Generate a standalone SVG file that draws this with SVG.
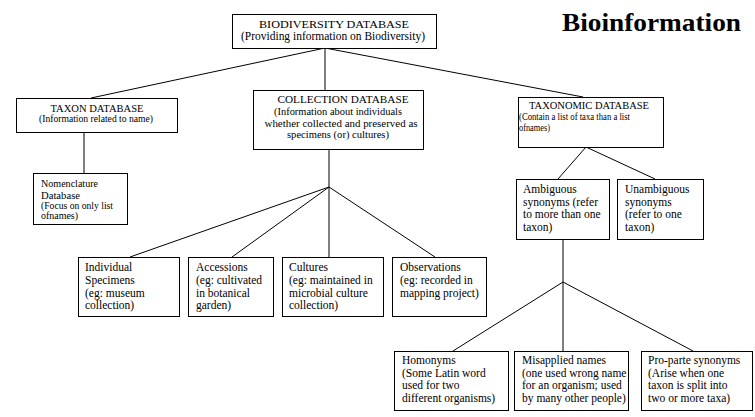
<svg xmlns="http://www.w3.org/2000/svg" width="755" height="417" viewBox="0 0 755 417">
<style>
.box{fill:#fff;stroke:#000;stroke-width:1}
.t{font-family:"Liberation Serif","Times New Roman",serif;font-size:11.5px;fill:#000}
.s{font-family:"Liberation Serif","Times New Roman",serif;font-size:10px;fill:#000}
.h{font-family:"Liberation Serif","Times New Roman",serif;font-size:11px;fill:#000}
.c{text-anchor:middle}
.title{font-family:"Liberation Serif","Times New Roman",serif;font-size:25px;font-weight:bold;fill:#000}
#connectors line{stroke:#000;stroke-width:1}
</style>
<rect width="755" height="417" fill="#fff"/>
<g id="connectors">
<line x1="325" y1="48" x2="91" y2="98"/>
<line x1="325" y1="48" x2="325" y2="90"/>
<line x1="325" y1="48" x2="583" y2="97"/>
<line x1="84" y1="132" x2="84" y2="173"/>
<line x1="329" y1="149" x2="329" y2="187"/>
<line x1="329" y1="187" x2="130" y2="257"/>
<line x1="329" y1="187" x2="232" y2="257"/>
<line x1="329" y1="187" x2="329" y2="257"/>
<line x1="329" y1="187" x2="435" y2="257"/>
<line x1="586" y1="147" x2="558" y2="179"/>
<line x1="586" y1="147" x2="655" y2="179"/>
<line x1="563" y1="239" x2="563" y2="282"/>
<line x1="563" y1="282" x2="453" y2="351"/>
<line x1="563" y1="282" x2="563" y2="351"/>
<line x1="563" y1="282" x2="693" y2="351"/>
</g>
<text class="title" x="562" y="31" textLength="179" lengthAdjust="spacingAndGlyphs">Bioinformation</text>
<g id="biodiversity">
<rect class="box" x="232.5" y="14.5" width="204" height="34"/>
<text class="h c" x="334" y="28" textLength="150" lengthAdjust="spacingAndGlyphs">BIODIVERSITY DATABASE</text>
<text class="t c" x="333" y="40" textLength="184" lengthAdjust="spacingAndGlyphs">(Providing information on Biodiversity)</text>
</g>
<g id="taxon">
<rect class="box" x="16.5" y="98.5" width="161" height="34"/>
<text class="s c" x="97" y="112" textLength="93" lengthAdjust="spacingAndGlyphs">TAXON DATABASE</text>
<text class="s c" x="96" y="122" textLength="114" lengthAdjust="spacingAndGlyphs">(Information related to name)</text>
</g>
<g id="collection">
<rect class="box" x="253.5" y="90.5" width="170" height="59"/>
<text class="s c" x="343" y="103" textLength="131" lengthAdjust="spacingAndGlyphs">COLLECTION DATABASE</text>
<text class="s c" x="338" y="115" textLength="128" lengthAdjust="spacingAndGlyphs">(Information about individuals</text>
<text class="s c" x="341" y="127" textLength="153" lengthAdjust="spacingAndGlyphs">whether collected and preserved as</text>
<text class="s c" x="338" y="138" textLength="102" lengthAdjust="spacingAndGlyphs">specimens (or) cultures)</text>
</g>
<g id="taxonomic">
<rect class="box" x="518.5" y="97.5" width="145" height="50"/>
<text class="s" x="529" y="109" textLength="120" lengthAdjust="spacingAndGlyphs">TAXONOMIC DATABASE</text>
<text class="s" x="519" y="120" textLength="111" lengthAdjust="spacingAndGlyphs">(Contain a list of taxa than a list</text>
<text class="s" x="519" y="131" textLength="31" lengthAdjust="spacingAndGlyphs">ofnames)</text>
</g>
<g id="nomenclature">
<rect class="box" x="33.5" y="173.5" width="94" height="51"/>
<text class="s" x="41" y="187" textLength="57" lengthAdjust="spacingAndGlyphs">Nomenclature</text>
<text class="s" x="41" y="199" textLength="39" lengthAdjust="spacingAndGlyphs">Database</text>
<text class="s" x="41" y="209" textLength="72" lengthAdjust="spacingAndGlyphs">(Focus on only list</text>
<text class="s" x="41" y="219" textLength="37" lengthAdjust="spacingAndGlyphs">ofnames)</text>
</g>
<g id="individual">
<rect class="box" x="78.5" y="257.5" width="101" height="59"/>
<text class="t" x="85" y="271">Individual</text>
<text class="t" x="85" y="284">Specimens</text>
<text class="t" x="85" y="297">(eg: museum</text>
<text class="t" x="85" y="309">collection)</text>
</g>
<g id="accessions">
<rect class="box" x="188.5" y="257.5" width="85" height="59"/>
<text class="t" x="196" y="271">Accessions</text>
<text class="t" x="196" y="284">(eg: cultivated</text>
<text class="t" x="196" y="297">in botanical</text>
<text class="t" x="196" y="309">garden)</text>
</g>
<g id="cultures">
<rect class="box" x="282.5" y="257.5" width="101" height="59"/>
<text class="t" x="289" y="271">Cultures</text>
<text class="t" x="289" y="284">(eg: maintained in</text>
<text class="t" x="289" y="297">microbial culture</text>
<text class="t" x="289" y="309">collection)</text>
</g>
<g id="observations">
<rect class="box" x="392.5" y="257.5" width="94" height="59"/>
<text class="t" x="400" y="271">Observations</text>
<text class="t" x="400" y="284">(eg: recorded in</text>
<text class="t" x="400" y="297">mapping project)</text>
</g>
<g id="ambiguous">
<rect class="box" x="516.5" y="179.5" width="93" height="60"/>
<text class="t" x="523" y="193">Ambiguous</text>
<text class="t" x="523" y="206">synonyms (refer</text>
<text class="t" x="523" y="218">to more than one</text>
<text class="t" x="523" y="231">taxon)</text>
</g>
<g id="unambiguous">
<rect class="box" x="617.5" y="179.5" width="86" height="60"/>
<text class="t" x="625" y="193">Unambiguous</text>
<text class="t" x="625" y="206">synonyms</text>
<text class="t" x="625" y="218">(refer to one</text>
<text class="t" x="625" y="231">taxon)</text>
</g>
<g id="homonyms">
<rect class="box" x="394.5" y="351.5" width="114" height="59"/>
<text class="t" x="402" y="364">Homonyms</text>
<text class="t" x="402" y="377">(Some Latin word</text>
<text class="t" x="402" y="389">used for two</text>
<text class="t" x="402" y="402">different organisms)</text>
</g>
<g id="misapplied">
<rect class="box" x="514.5" y="351.5" width="114" height="59"/>
<text class="t" x="522" y="364">Misapplied names</text>
<text class="t" x="522" y="377">(one used wrong name</text>
<text class="t" x="522" y="389">for an organism; used</text>
<text class="t" x="522" y="402">by many other people)</text>
</g>
<g id="proparte">
<rect class="box" x="641.5" y="351.5" width="111" height="59"/>
<text class="t" x="648" y="364">Pro-parte synonyms</text>
<text class="t" x="648" y="377">(Arise when one</text>
<text class="t" x="648" y="389">taxon is split into</text>
<text class="t" x="648" y="402">two or more taxa)</text>
</g>
</svg>
